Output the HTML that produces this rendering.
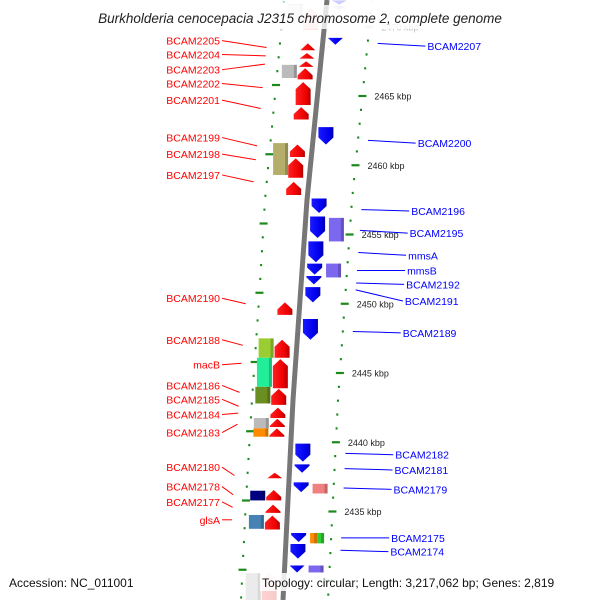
<!DOCTYPE html>
<html><head><meta charset="utf-8"><style>
html,body{margin:0;padding:0;background:#fff}
svg{display:block;font-family:"Liberation Sans",sans-serif}
</style></head><body>
<svg id="map" width="600" height="600" viewBox="0 0 600 600" xmlns="http://www.w3.org/2000/svg">
<defs>
<linearGradient id="gRed" x1="0" x2="1"><stop offset="0" stop-color="#ff2020"/><stop offset="0.7" stop-color="#ee0000"/><stop offset="1" stop-color="#b00000"/></linearGradient>
<linearGradient id="gBlue" x1="0" x2="1"><stop offset="0" stop-color="#1a1aff"/><stop offset="0.7" stop-color="#0000ee"/><stop offset="1" stop-color="#0000aa"/></linearGradient>
</defs>
<g id="layer"></g>
<rect x="60" y="5" width="480" height="24" fill="#fff" opacity="0.8"/>
<text x="300" y="23" text-anchor="middle" font-size="13.5" font-style="italic" fill="#222">Burkholderia cenocepacia J2315 chromosome 2, complete genome</text>
<text x="9" y="587" font-size="12" fill="#111">Accession: NC_011001</text>
<rect x="260" y="573" width="334" height="18" fill="#fff" opacity="0.85"/>
<text x="262" y="587" font-size="12" fill="#111">Topology: circular; Length: 3,217,062 bp; Genes: 2,819</text>
</svg>
<script>
// ---- data (kbp coordinates) ----
const leftStart = [2468.8,2468.1,2467.5,2467.0,2466.0,2464.2,2461.5,2460.5,2458.8,2450.1,2447.4,2446.0,2443.85,2442.5,2441.7,2441.0,2437.8,2436.55,2435.5,2434.7,2430.55,2471.35];
const leftEnd   = [2468.3,2467.7,2467.1,2466.2,2464.35,2463.3,2460.6,2459.1,2457.85,2449.2,2446.1,2443.9,2442.7,2441.75,2441.1,2440.4,2437.4,2435.8,2434.9,2433.7,2428.6,2469.8];
const leftFaint = [0,0,0,0,0,0,0,0,0,0,0,0,0,0,0,0,0,0,0,0,1,1];
const rightStart = [2471.9,2471.5,2469.2,2462.75,2457.6,2456.3,2454.5,2452.9,2452.0,2451.2,2448.9,2439.9,2438.4,2437.1,2433.45,2432.65,2431.1];
const rightEnd   = [2471.6,2471.2,2468.7,2461.5,2456.55,2454.75,2453.0,2452.1,2451.4,2450.1,2447.4,2438.6,2437.8,2436.4,2432.8,2431.6,2430.6];
const rightFaint = [1,1,0,0,0,0,0,0,0,0,0,0,0,0,0,0,0];
const leftBoxStart = [2471.6,2467.25,2461.6,2447.5,2446.1,2444.0,2441.75,2441.0,2436.5,2434.75,2430.55];
const leftBoxEnd   = [2470.5,2466.3,2459.3,2446.1,2444.0,2442.8,2441.0,2440.4,2435.8,2433.75,2428.6];
const leftBoxColor = ["#ccc","#bbb","#b5ae6a","#9acd32","#22ee99","#6b8e23","#bbb","#ff8c00","#000080","#4682b4","#ccc"];
const rightBoxStart = [2456.2,2452.9,2437.0,2433.45,2433.45,2431.1];
const rightBoxEnd   = [2454.5,2451.9,2436.3,2432.7,2432.7,2430.6];
const rightBoxColor = ["#7b68ee","#7b68ee","#f08080","#ff8c00","#32cd32","#7b68ee"];
const leftLabels = ["BCAM2205","BCAM2204","BCAM2203","BCAM2202","BCAM2201","BCAM2199","BCAM2198","BCAM2197","BCAM2190","BCAM2188","macB","BCAM2186","BCAM2185","BCAM2184","BCAM2183","BCAM2180","BCAM2178","BCAM2177","glsA"];
const leftLabelKbp = [2469.0,2468.0,2466.9,2465.9,2464.7,2462.0,2460.8,2459.3,2450.4,2447.4,2445.6,2444.1,2443.1,2442.0,2440.7,2438.2,2436.8,2435.7,2434.4];
const leftLabelTarget = [2468.5,2467.9,2467.3,2465.6,2464.1,2461.4,2460.4,2458.8,2450.0,2447.0,2445.7,2443.6,2442.6,2442.1,2441.3,2437.6,2436.2,2435.3,2434.4];
const rightLabels = ["BCAM2207","BCAM2200","BCAM2196","BCAM2195","mmsA","mmsB","BCAM2192","BCAM2191","BCAM2189","BCAM2182","BCAM2181","BCAM2179","BCAM2175","BCAM2174"];
const rightLabelKbp = [2468.6,2461.6,2456.7,2455.1,2453.5,2452.4,2451.4,2450.2,2447.9,2439.1,2438.0,2436.6,2433.1,2432.1];
const rightLabelTarget = [2468.8,2461.8,2456.8,2455.3,2453.7,2452.4,2451.5,2451.0,2448.0,2439.2,2438.1,2436.7,2433.1,2432.2];
const tickKbp = [2470,2465,2460,2455,2450,2445,2440,2435];
const tickLabels = ["2470 kbp","2465 kbp","2460 kbp","2455 kbp","2450 kbp","2445 kbp","2440 kbp","2435 kbp"];

// ---- scales ----
const y = k => 96 + (2465 - k) * 13.85;
function interp(pts, yy){for(let i=0;i<pts.length-1;i++){const a=pts[i],b=pts[i+1];if(yy<=b[0]||i==pts.length-2){const t=(yy-a[0])/(b[0]-a[0]);return a[1]+t*(b[1]-a[1]);}}}
const bbPts=[[0,327],[100,317],[200,307],[300,300],[400,293],[500,288],[600,283]];
const rPts=[[0,372],[40,368],[200,352],[300,345],[400,338],[500,333],[600,328]];
const lPts=[[0,284],[43,280],[200,265],[300,259],[400,252],[500,246],[600,241]];
const bb=yy=>interp(bbPts,yy), rx=yy=>interp(rPts,yy), lx=yy=>interp(lPts,yy);
const NS="http://www.w3.org/2000/svg";
const layer=document.getElementById('layer');
function mk(tag,attrs){const e=document.createElementNS(NS,tag);for(const k in attrs)e.setAttribute(k,attrs[k]);layer.appendChild(e);return e;}

// backbone
let d="";for(let yy=0;yy<=600;yy+=10)d+=(yy?"L":"M")+bb(yy)+","+yy;
let e=mk('path',{d:d,stroke:'#777','stroke-width':5,fill:'none'});



// tick dots
for(let k=2428;k<=2472;k++){
  const major=(k%5===0);
  const yr=y(k), yl=y(k)-11;
  let a=mk('line',{x1:rx(yr)-(major?4:1),x2:rx(yr)+(major?4:1),y1:yr,y2:yr,stroke:'#1a8a1a','stroke-width':2.2,opacity:yr<30?0.3:1});
  
  
  let b=mk('line',{x1:lx(yl)-(major?4:1),x2:lx(yl)+(major?4:1),y1:yl,y2:yl,stroke:'#1a8a1a','stroke-width':2.2,opacity:yl<30?0.3:1});
  
  
}
tickKbp.forEach((k,i)=>{const yy=y(k);
  let t=mk('text',{x:rx(yy)+12,y:yy+3.5,'font-size':9,fill:'#222',opacity:yy<30?0.3:1});t.textContent=tickLabels[i];
  
  
});

// arrows
function arrow(k0,k1,x0,x1,up,fill,op){
  const ya=y(k0), yb=y(k1);
  const top=Math.min(ya,yb), bot=Math.max(ya,yb), len=bot-top, head=Math.min(7,len);
  const xm=(x0+x1)/2; let p;
  if(up){p=[[x0,bot],[x1,bot],[x1,top+head],[xm,top],[x0,top+head]];}
  else{p=[[x0,top],[x1,top],[x1,bot-head],[xm,bot],[x0,bot-head]];}
  return mk('polygon',{points:p.map(q=>q.join(',')).join(' '),fill:fill,opacity:op});
}
leftStart.forEach((s,i)=>{const c=bb(y((s+leftEnd[i])/2));
  const a=arrow(s,leftEnd[i],c-22,c-7,true,'url(#gRed)',leftFaint[i]?0.2:1);
  
  
});
rightStart.forEach((s,i)=>{const c=bb(y((s+rightEnd[i])/2));
  const a=arrow(s,rightEnd[i],c+5,c+20,false,'url(#gBlue)',rightFaint[i]?0.2:1);
  
  
});
function box(k0,k1,x0,w,col,op){const ya=y(k0),yb=y(k1);
  mk('rect',{x:x0,y:ya,width:w,height:yb-ya,fill:col,opacity:op});
  const r=mk('rect',{x:x0+w-3,y:ya,width:3,height:yb-ya,fill:'#000',opacity:0.2*op});return r;}
leftBoxStart.forEach((s,i)=>{const c=bb(y((s+leftBoxEnd[i])/2));
  const r=box(s,leftBoxEnd[i],c-38,15,leftBoxColor[i],(i===0||i===10)?0.4:1);
  
  
});
rightBoxStart.forEach((s,i)=>{const c=bb(y((s+rightBoxEnd[i])/2));
  const w=(i===3||i===4)?7:15, off=(i===4)?31:24;
  const r=box(s,rightBoxEnd[i],c+off,w,rightBoxColor[i],1);
  
  
});

// labels
leftLabels.forEach((n,i)=>{const ly=y(leftLabelKbp[i]), ty=y(leftLabelTarget[i]);
  const l=mk('line',{x1:222,y1:ly,x2:lx(ty)-13,y2:ty,stroke:'#f00','stroke-width':1});
  
  
  const t=mk('text',{x:220,y:ly+4,'font-size':10.5,fill:'#f00','text-anchor':'end'});t.textContent=n;
  
  
});
rightLabels.forEach((n,i)=>{const ly=y(rightLabelKbp[i]), ty=y(rightLabelTarget[i]);
  const tx=rx(ly)+60;
  const l=mk('line',{x1:rx(ty)+10,y1:ty,x2:tx-2,y2:ly,stroke:'#00f','stroke-width':1});
  
  
  const t=mk('text',{x:tx,y:ly+4,'font-size':10.5,fill:'#00f'});t.textContent=n;
  
  
});
</script>
</body></html>
